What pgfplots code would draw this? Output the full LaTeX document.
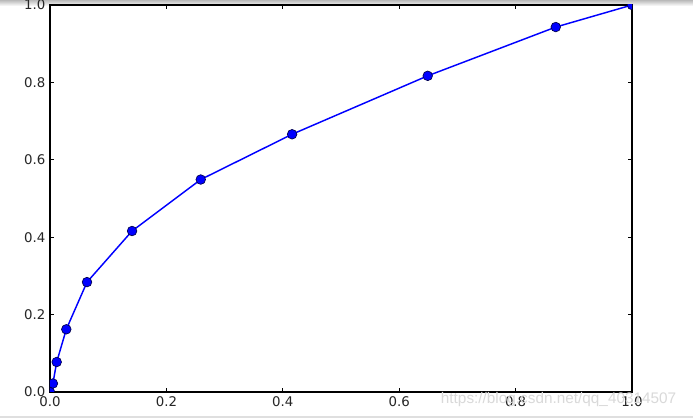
\documentclass[border=0pt]{standalone}
\usepackage{fontspec}
\setmainfont{DejaVu Sans}
\newfontfamily\wmfont{Liberation Sans}
\usepackage{pgfplots}
\pgfplotsset{compat=1.18}
\definecolor{mplblue}{RGB}{0,0,255}

\begin{document}
\begin{tikzpicture}
% page = 693 x 418 px, 1 px = 0.75 pt
\path[use as bounding box] (0,0) rectangle (519.75pt,313.5pt);
\clip (0,0) rectangle (519.75pt,313.5pt);
\fill[white] (0,0) rectangle (519.75pt,313.5pt);
\shade[top color=gray!55, bottom color=white] (0,309pt) rectangle (519.75pt,313.5pt);
\fill[gray!25] (0,0) rectangle (519.75pt,1.5pt);

\begin{axis}[
  at={(37.5pt,19.5pt)}, anchor=south west,
  scale only axis,
  width=436.5pt, height=290.25pt,
  xmin=0, xmax=1, ymin=0, ymax=1,
  xtick={0,0.2,...,1.0}, ytick={0,0.2,...,1.0},
  tick align=inside,
  major tick length=3pt,
  tick style={black, line width=0.6pt},
  axis line style={black, line width=0.8pt},
  ticklabel style={font=\fontsize{10}{12}\selectfont, text=black!85},
  /pgf/number format/assume math mode=true,
  /pgf/number format/.cd, fixed, fixed zerofill, precision=1,
  /tikz/.cd,
  clip marker paths=true,
]
\addplot [mplblue, line width=1.1pt, mark=*, mark size=3.6pt,
  mark options={fill=mplblue, draw=black!70!mplblue, line width=0.5pt}]
table {%
0 0
0.005 0.022
0.0115 0.0775
0.028 0.162
0.0636 0.284
0.141 0.416
0.259 0.549
0.416 0.666
0.649 0.817
0.869 0.943
1 1
};
\end{axis}

\node[anchor=west, inner sep=0pt, text=gray!30, font=\wmfont\fontsize{11.5}{13}\selectfont] at (330.5pt,13.5pt) {https://blog.csdn.net/qq\_40314507};
\end{tikzpicture}
\end{document}
